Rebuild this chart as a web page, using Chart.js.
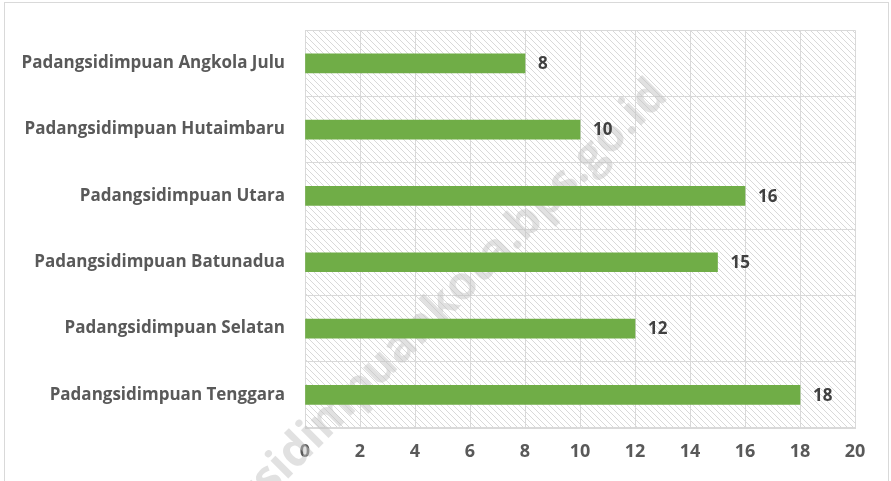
<!DOCTYPE html>
<html>
<head>
<meta charset="utf-8">
<script src="https://cdn.jsdelivr.net/npm/chart.js@4"></script>
<style>
  html, body { margin: 0; padding: 0; background: #fff; }
  #wrap { width: 891px; height: 481px; }
</style>
</head>
<body>
<div id="wrap"><canvas id="kecChart" width="891" height="481"></canvas></div>
<script>
// Data
const kecamatan = [
    'Padangsidimpuan Angkola Julu',
    'Padangsidimpuan Hutaimbaru',
    'Padangsidimpuan Utara',
    'Padangsidimpuan Batunadua',
    'Padangsidimpuan Selatan',
    'Padangsidimpuan Tenggara'
];
const jumlah = [8, 10, 16, 15, 12, 18];
const xTicks = [0, 2, 4, 6, 8, 10, 12, 14, 16, 18, 20];
const watermarkText = 'padangsidimpuankota.bps.go.id';

const FONT = "'Open Sans', 'DejaVu Sans', sans-serif";

// diagonal hatch for the plot area
function makeHatch() {
    const c = document.createElement('canvas');
    c.width = 6;
    c.height = 6;
    const g = c.getContext('2d');
    g.fillStyle = '#ffffff';
    g.fillRect(0, 0, 6, 6);
    g.fillStyle = '#d9d9d9';
    for (let i = 0; i < 6; i++) {
        g.fillRect(i, i, 1, 1);
    }
    return c;
}

const backgroundPlugin = {
    id: 'bgHatch',
    beforeDraw(chart) {
        const { ctx, chartArea: a } = chart;
        ctx.save();
        // outer chart border
        ctx.strokeStyle = '#d9d9d9';
        ctx.lineWidth = 1;
        ctx.strokeRect(4.5, 2.5, 884, 500);
        ctx.fillStyle = ctx.createPattern(makeHatch(), 'repeat');
        ctx.fillRect(a.left, a.top, a.right - a.left, a.bottom - a.top);
        ctx.restore();
    }
};

const watermarkPlugin = {
    id: 'watermark',
    beforeDatasetsDraw(chart) {
        const ctx = chart.ctx;
        ctx.save();
        ctx.translate(660, 88);
        ctx.rotate(-45 * Math.PI / 180);
        ctx.font = 'bold 46px ' + FONT;
        ctx.fillStyle = 'rgba(195, 195, 195, 0.5)';
        ctx.textAlign = 'right';
        ctx.textBaseline = 'middle';
        ctx.fillText(watermarkText, 0, 0);
        ctx.restore();
    }
};

const valueLabelPlugin = {
    id: 'valueLabels',
    afterDatasetsDraw(chart) {
        const ctx = chart.ctx;
        const meta = chart.getDatasetMeta(0);
        ctx.save();
        ctx.font = 'bold 17px ' + FONT;
        ctx.fillStyle = '#404040';
        ctx.textAlign = 'left';
        ctx.textBaseline = 'middle';
        meta.data.forEach((bar, i) => {
            ctx.fillText(String(jumlah[i]), bar.x + 13, bar.y + 1);
        });
        ctx.restore();
    }
};

new Chart(document.getElementById('kecChart'), {
    type: 'bar',
    data: {
        labels: kecamatan,
        datasets: [{
            data: jumlah,
            backgroundColor: '#70ad47',
            borderWidth: 0,
            barThickness: 19
        }]
    },
    options: {
        indexAxis: 'y',
        responsive: false,
        animation: false,
        layout: { padding: { top: 28, right: 36, left: 0, bottom: 0 } },
        plugins: {
            legend: { display: false },
            tooltip: { enabled: false }
        },
        scales: {
            x: {
                min: 0,
                max: 20,
                afterBuildTicks: (scale) => { scale.ticks = xTicks.map(v => ({ value: v })); },
                afterFit: (scale) => { scale.height = 53; },
                grid: { color: '#d9d9d9', lineWidth: 1, drawTicks: false },
                border: { color: '#d9d9d9' },
                ticks: {
                    padding: 13,
                    color: '#595959',
                    font: { family: FONT, size: 18, weight: 'bold' }
                }
            },
            y: {
                afterFit: (scale) => { scale.width = 305; },
                grid: { color: '#d9d9d9', lineWidth: 1, drawTicks: false, offset: true },
                border: { color: '#d9d9d9' },
                ticks: {
                    padding: 20,
                    color: '#595959',
                    font: { family: FONT, size: 17, weight: 'bold' }
                }
            }
        }
    },
    plugins: [backgroundPlugin, watermarkPlugin, valueLabelPlugin]
});
</script>
</body>
</html>
